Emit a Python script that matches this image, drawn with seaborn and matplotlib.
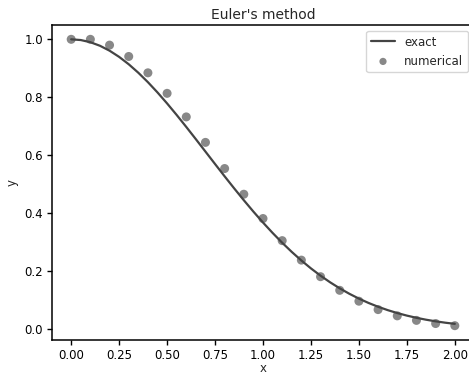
import matplotlib
matplotlib.use("Agg")
import matplotlib.pyplot as plt
import seaborn as sns
import pandas as pd

# exact solution samples
x_exact = [0.00, 0.05, 0.10, 0.15, 0.20, 0.25, 0.30, 0.35, 0.40, 0.45,
           0.50, 0.55, 0.60, 0.65, 0.70, 0.75, 0.80, 0.85, 0.90, 0.95,
           1.00, 1.05, 1.10, 1.15, 1.20, 1.25, 1.30, 1.35, 1.40, 1.45,
           1.50, 1.55, 1.60, 1.65, 1.70, 1.75, 1.80, 1.85, 1.90, 1.95, 2.00]
y_exact = [1.00000, 0.99750, 0.99005, 0.97775, 0.96079, 0.93941, 0.91393, 0.88471,
           0.85214, 0.81669, 0.77880, 0.73897, 0.69768, 0.65541, 0.61263, 0.56978,
           0.52729, 0.48556, 0.44486, 0.40555, 0.36788, 0.33204, 0.29820, 0.26647,
           0.23693, 0.20961, 0.18452, 0.16162, 0.14086, 0.12214, 0.10540, 0.09049,
           0.07730, 0.06571, 0.05558, 0.04677, 0.03916, 0.03262, 0.02705, 0.02231,
           0.01832]

# numerical (Euler) points
x_num = [0.0, 0.1, 0.2, 0.3, 0.4, 0.5, 0.6, 0.7, 0.8, 0.9, 1.0,
         1.1, 1.2, 1.3, 1.4, 1.5, 1.6, 1.7, 1.8, 1.9, 2.0]
y_num = [1.0, 1.0, 0.98, 0.9408, 0.8844, 0.8136, 0.7323, 0.6444, 0.5542, 0.4655,
         0.3817, 0.3054, 0.2382, 0.1810, 0.1340, 0.0965, 0.0675, 0.0459, 0.0303,
         0.0194, 0.0120]

title = "Euler's method"
xlabel = "x"
ylabel = "y"
xticks = [0.00, 0.25, 0.50, 0.75, 1.00, 1.25, 1.50, 1.75, 2.00]
yticks = [0.0, 0.2, 0.4, 0.6, 0.8, 1.0]

sns.set_style("ticks")
plt.rcParams['font.family'] = ['DejaVu Sans']
plt.rcParams['font.size'] = 8.5

W, H = 469, 376
fig = plt.figure(figsize=(W / 100, H / 100), dpi=100)
ax = fig.add_axes([52 / W, (H - 340) / H, (474 - 52) / W, (340 - 25) / H])

df_exact = pd.DataFrame({"x": x_exact, "y": y_exact})
df_num = pd.DataFrame({"x": x_num, "y": y_num})

sns.lineplot(data=df_exact, x="x", y="y", ax=ax, color="#444444", linewidth=1.6, label="exact")
sns.scatterplot(data=df_num, x="x", y="y", ax=ax, color="#888888", s=42, edgecolor="none", label="numerical")

ax.set_xticks(xticks)
ax.set_xticklabels([f"{t:.2f}" for t in xticks])
ax.set_yticks(yticks)
ax.set_yticklabels([f"{t:.1f}" for t in yticks])
ax.set_xlim(-0.1, 2.1)
ax.set_ylim(-0.0374, 1.0494)
ax.set_title(title, fontsize=10, pad=4)
ax.set_xlabel(xlabel, labelpad=0)
ax.set_ylabel(ylabel, labelpad=4)
for s in ax.spines.values():
    s.set_color("black")
    s.set_linewidth(1.1)
ax.tick_params(colors="black", labelsize=8.5, length=3.5, width=1.0, pad=3)
ax.legend(loc="upper right", frameon=True, fontsize=8.5, markerscale=0.8)

fig.savefig("out.png", dpi=100)
